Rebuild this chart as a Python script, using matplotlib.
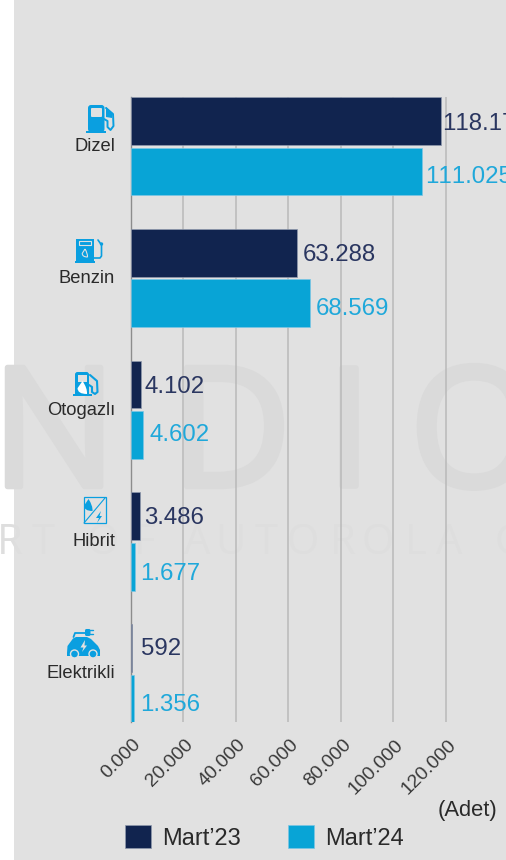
import matplotlib
matplotlib.use("Agg")
import matplotlib.pyplot as plt
import matplotlib.patheffects as pe
from matplotlib.patches import Rectangle, FancyBboxPatch, Circle, Polygon, PathPatch
from matplotlib.path import Path
from matplotlib.transforms import ScaledTranslation

plt.rcParams['font.family'] = ['Liberation Sans', 'DejaVu Sans']
plt.rcParams['text.kerning_factor'] = 10

# ---- data ----
categories = ["Dizel", "Benzin", "Otogazlı", "Hibrit", "Elektrikli"]
mart23 = [118170, 63288, 4102, 3486, 592]
mart24 = [111025, 68569, 4602, 1677, 1356]
labels23 = ["118.17", "63.288", "4.102", "3.486", "592"]
labels24 = ["111.025", "68.569", "4.602", "1.677", "1.356"]
ticks = [0, 20000, 40000, 60000, 80000, 100000, 120000]
tick_labels = ["0.000", "20.000", "40.000", "60.000", "80.000", "100.000", "120.000"]
series_names = ["Mart’23", "Mart’24"]
unit = "(Adet)"

# ---- style ----
W, H = 506, 860
NAVY, CYAN = "#11244f", "#08a4d6"
NAVY_T, CYAN_T = "#2a3660", "#1fa8da"
ICON = "#0a9fe0"
BG = "#e1e1e1"
WM1, WM2 = "#dadada", "#dedede"
TXT = "#2a2a2a"

fig = plt.figure(figsize=((W + 0.01) / 100, (H + 0.01) / 100), dpi=100, facecolor="white")

# pixel-coordinate backdrop
bg = fig.add_axes([0, 0, 1, 1], zorder=0)
bg.set_xlim(0, W)
bg.set_ylim(H, 0)
bg.axis("off")
panel = Rectangle((14, 0), W - 14, H, fc=BG, ec="none")
bg.add_patch(panel)

# watermark
for ch, x in zip("NDIO", [54, 231, 349, 474]):
    t = bg.text(x, 443, ch, fontsize=120, ha="center", va="center", color=WM1, family="Open Sans",
                path_effects=[pe.withStroke(linewidth=4, foreground=WM1)])
    t.set_clip_path(panel)
for ch, x in zip("RTOFAUTOROLAG", [10, 43, 103, 145, 197, 230, 266, 303, 343, 378, 416, 449, 510]):
    t = bg.text(x, 543, ch, fontsize=30, ha="center", va="center", color=WM2, family="Open Sans")
    t.set_clip_path(panel)

# main chart
L, R, T, B = 130.5, W, 97.5, 722.0
ax = fig.add_axes([L / W, 1 - B / H, (R - L) / W, (B - T) / H], zorder=2)
ax.patch.set_alpha(0)
ax.set_xlim(0, (R - L) / 52.5 * 20000)
ax.set_ylim(4.371, -0.371)
for s in ("top", "right", "bottom"):
    ax.spines[s].set_visible(False)
ax.spines["left"].set_color("#8c8c8c")
ax.spines["left"].set_linewidth(1.0)

ypos = list(range(len(categories)))
h, off = 0.362, 0.192
b1 = ax.barh([y - off for y in ypos], mart23, height=h, color=NAVY, edgecolor="#8f99ad", linewidth=0.5, zorder=3, label=series_names[0])
b2 = ax.barh([y + off for y in ypos], mart24, height=h, color=CYAN, edgecolor="#7cc6e4", linewidth=0.5, zorder=3, label=series_names[1])
ax.xaxis.grid(True, color="#b9b9b9", linewidth=1.1, zorder=1)
ax.set_axisbelow(True)

ax.set_yticks(ypos, categories, fontsize=13.2, color=TXT)
ax.tick_params(axis="y", length=0, pad=11)
for lab in ax.get_yticklabels():
    lab.set_transform(lab.get_transform() + ScaledTranslation(0, 1.5 / 100, fig.dpi_scale_trans))

ax.set_xticks(ticks, tick_labels, fontsize=13.9, color="#3a3a3a", rotation=45, ha="right", rotation_mode="anchor")
ax.tick_params(axis="x", length=0, pad=0)
for lab in ax.get_xticklabels():
    lab.set_transform(lab.get_transform() + ScaledTranslation(2 / 100, -14 / 100, fig.dpi_scale_trans))

# value labels: offsets in px from bar end (right, down)
off23 = [1, 6, 3, 4, 9]
off24 = [3, 5, 7, 5, 6]
dy23 = [2, 2, 2, 1, 0]
dy24 = [5, 5, -1, 7, 6]
for y, v, t, o, d in zip(ypos, mart23, labels23, off23, dy23):
    ax.annotate(t, (v, y - off), xytext=(o * 0.72, -0.5 - d * 0.72), textcoords="offset points",
                va="center", ha="left", fontsize=17.3, color=NAVY_T, annotation_clip=False, zorder=5)
for y, v, t, o, d in zip(ypos, mart24, labels24, off24, dy24):
    ax.annotate(t, (v, y + off), xytext=(o * 0.72, -0.5 - d * 0.72), textcoords="offset points",
                va="center", ha="left", fontsize=17.3, color=CYAN_T, annotation_clip=False, zorder=5)

# legend and unit
fig.legend(handles=[b1, b2], labels=series_names, loc="center left",
           bbox_to_anchor=(125 / W, 1 - 837.5 / H), ncols=2, frameon=False, fontsize=17,
           handlelength=1.1, handleheight=1.1, handletextpad=0.47, columnspacing=2.0,
           borderpad=0, borderaxespad=0, labelcolor=TXT)
fig.text(497 / W, 1 - 810 / H, unit, fontsize=15.8, ha="right", va="center", color=TXT)

# icons, pixel coordinates
ic = fig.add_axes([0, 0, 1, 1], zorder=3)
ic.set_xlim(0, W)
ic.set_ylim(H, 0)
ic.axis("off")

def rbox(x0, y0, x1, y1, r=1.5, fc=ICON, ec="none", lw=0):
    ic.add_patch(FancyBboxPatch((x0 + r, y0 + r), x1 - x0 - 2 * r, y1 - y0 - 2 * r,
                                boxstyle=f"round,pad={r}", fc=fc, ec=ec, lw=lw))

def curve(pts, lw=1.3, color=ICON):
    ic.plot(*zip(*pts), color=color, lw=lw, solid_capstyle="round", solid_joinstyle="round")

def drop(cx, top, w, h, fc=ICON, ec="none", lw=0):
    v = [(cx, top), (cx + w * 0.55, top + h * 0.55), (cx + w * 0.5, top + h),
         (cx - w * 0.55, top + h), (cx - w * 0.55, top + h * 0.55), (cx, top), (cx, top)]
    c = [Path.MOVETO, Path.CURVE3, Path.CURVE3, Path.CURVE3, Path.CURVE3, Path.CURVE3, Path.CLOSEPOLY]
    ic.add_patch(PathPatch(Path(v, c), fc=fc, ec=ec, lw=lw))

# Dizel
rbox(88, 105, 104.5, 132, r=3)
rbox(91, 108, 102, 117, r=1, fc=BG)
ic.add_patch(Rectangle((86, 131), 20, 2.2, fc=ICON))
curve([(106, 108), (113, 114), (113.5, 126), (110.5, 130), (107.5, 127), (107.5, 121), (104, 119)], lw=1.4)
ic.add_patch(Polygon([(106, 107), (112, 113), (112, 118), (106, 117)], fc=ICON))
# Benzin
ic.add_patch(Rectangle((75.5, 239), 18, 22, fc=ICON))
ic.add_patch(Rectangle((78.5, 241), 12, 4.5, fc="none", ec=BG, lw=0.8))
drop(85, 249, 5, 8, fc="none", ec=BG, lw=0.8)
ic.add_patch(Rectangle((75, 261), 20, 1.8, fc=ICON))
curve([(94, 258), (100, 258), (101.5, 256), (101.5, 245), (98, 240)], lw=1.2)
ic.add_patch(Circle((101.5, 244), 1.7, fc=ICON))
# Otogazli
rbox(75, 372, 89, 396, r=2.5)
ic.add_patch(Rectangle((78, 375), 9, 7, fc=BG))
ic.add_patch(Rectangle((73, 394), 19, 2, fc=ICON))
drop(82.5, 381, 9, 13, fc="white")
curve([(90, 375), (97, 381), (97.5, 392), (95, 394), (92, 392), (92, 387), (89, 385)], lw=1.5)
# Hibrit
ic.add_patch(Rectangle((83.5, 497.5), 22, 26, fc="none", ec=ICON, lw=0.9))
curve([(84, 523), (105, 498)], lw=0.8)
drop(88.5, 499, 8, 12)
ic.add_patch(Polygon([(101, 511), (96, 518), (99, 518), (97, 523), (102, 516), (99.5, 516)], fc=ICON))
# Elektrikli
car = [(67, 653), (67.5, 646), (73, 638.5), (76, 637), (87, 637), (91, 639), (98, 646), (100, 650), (100, 656), (67, 656)]
ic.add_patch(Polygon(car, fc=ICON, closed=True, joinstyle="round"))
ic.add_patch(Circle((74.5, 654), 4, fc=ICON, ec=BG, lw=1))
ic.add_patch(Circle((93, 654), 4, fc=ICON, ec=BG, lw=1))
ic.add_patch(Polygon([(85, 640), (80.5, 647.5), (83.5, 647.5), (82, 652), (87, 645.5), (84.5, 645.5)], fc=BG))
curve([(73.5, 637), (75, 633), (85, 633)], lw=1.3)
rbox(85, 629, 90.5, 636, r=1.5)
curve([(90, 630.5), (93, 630.5)], lw=1)
curve([(90, 634), (93, 634)], lw=1)

fig.savefig("out.png", dpi=100, facecolor="white")
